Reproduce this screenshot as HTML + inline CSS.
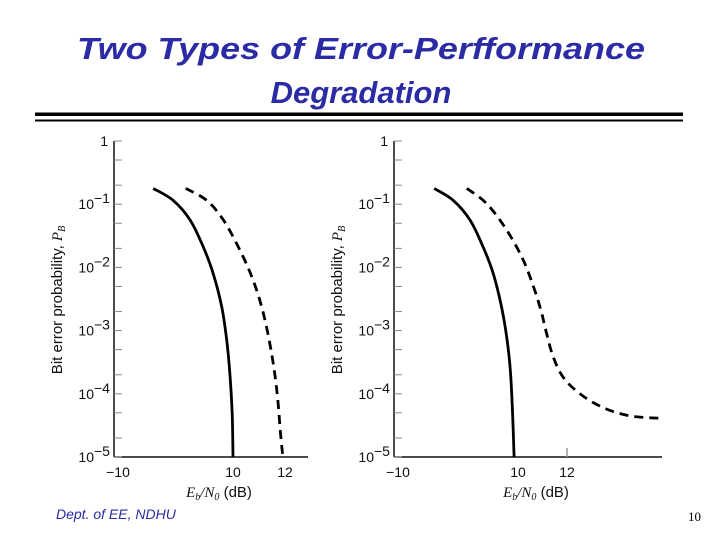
<!DOCTYPE html>
<html><head><meta charset="utf-8"><style>
body{margin:0;background:#fff;}
svg{display:block;}
.tt{font-family:"Liberation Sans",sans-serif;font-weight:bold;font-style:italic;font-size:31px;fill:#2b2ba6;}
.tk{font-family:"Liberation Sans",sans-serif;font-size:14px;fill:#111;}
</style></head><body>
<svg id="s" width="720" height="540" viewBox="0 0 720 540" xmlns="http://www.w3.org/2000/svg">
<text class="tt" x="361" y="59" text-anchor="middle" textLength="568" lengthAdjust="spacingAndGlyphs">Two Types of Error-Perfformance</text>
<text class="tt" x="361" y="103" text-anchor="middle">Degradation</text>
<rect x="35" y="112.5" width="648" height="3.5" fill="#000"/>
<rect x="35" y="119.5" width="648" height="2" fill="#000"/>
<text x="56" y="519" font-family="Liberation Sans,sans-serif" font-style="italic" font-size="14" fill="#2b2ba6">Dept. of EE, NDHU</text>
<text x="688" y="521" font-family="Liberation Serif,serif" font-size="13" fill="#000">10</text>
<g id="c1"></g>
<g id="c2"></g>
</svg>
<script>
// Left chart data (x in dB, y as log10 P_B)
const leftSolidX = [6.93,7.70,8.35,8.86,9.24,9.57,9.76,9.88,9.97,10.0];
const leftSolidY = [-0.75,-0.94,-1.25,-1.68,-2.10,-2.63,-3.16,-3.69,-4.32,-5.0];
const leftDashX = [8.18,8.99,9.63,10.27,10.78,11.17,11.49,11.70,11.83,11.92];
const leftDashY = [-0.75,-0.94,-1.25,-1.73,-2.21,-2.73,-3.37,-4.00,-4.64,-5.0];
// Right chart data
const rightSolidX = [6.58,7.36,8.04,8.58,8.99,9.33,9.56,9.70,9.78,9.84];
const rightSolidY = [-0.75,-0.94,-1.25,-1.68,-2.10,-2.63,-3.16,-3.69,-4.32,-5.0];
const rightDashX = [7.91,8.72,9.54,10.22,10.69,10.97,11.17,11.44,11.85,12.53,13.48,14.57,15.87];
const rightDashY = [-0.75,-0.99,-1.41,-1.89,-2.37,-2.73,-3.05,-3.42,-3.74,-4.0,-4.22,-4.35,-4.39];
const yTickExp = [0,-1,-2,-3,-4,-5];
const yTickLabels = ["1","10","10","10","10","10"];
const yTickSup = ["","\u22121","\u22122","\u22123","\u22124","\u22125"];
const xTickVals = [10,12];
const xTickLabels = ["10","12"];

const NS="http://www.w3.org/2000/svg";
function mk(parent,tag,attrs,txt){const e=document.createElementNS(NS,tag);for(const k in attrs)e.setAttribute(k,attrs[k]);if(txt!==undefined)e.textContent=txt;parent.appendChild(e);return e;}

function smooth(pts){
  let d='M'+pts[0][0].toFixed(1)+','+pts[0][1].toFixed(1);
  for(let i=0;i<pts.length-1;i++){
    const p0=pts[i-1]||pts[i],p1=pts[i],p2=pts[i+1],p3=pts[i+2]||p2;
    const c1=[p1[0]+(p2[0]-p0[0])/6,p1[1]+(p2[1]-p0[1])/6];
    const c2=[p2[0]-(p3[0]-p1[0])/6,p2[1]-(p3[1]-p1[1])/6];
    d+=` C${c1[0].toFixed(1)},${c1[1].toFixed(1)} ${c2[0].toFixed(1)},${c2[1].toFixed(1)} ${p2[0].toFixed(1)},${p2[1].toFixed(1)}`;
  }
  return d;
}

function chart(g,ax,xEnd,px10,pxPerDb,sX,sY,dX,dY,midTick){
  const top=141,bot=457,dec=(bot-top)/5;
  const X=v=>px10+(v-10)*pxPerDb;
  const Y=l=>top-l*dec;
  let e;
  e=mk(g,'line',{x1:ax,y1:top,x2:ax,y2:bot,stroke:'#111','stroke-width':1.5});
  
  
  e=mk(g,'line',{x1:ax,y1:bot,x2:xEnd,y2:bot,stroke:'#111','stroke-width':1.5});
  
  
  yTickExp.forEach((p,i)=>{
    [0,Math.log10(0.5),Math.log10(0.2)].forEach(o=>{
      const l=p+o; if(l<-5)return;
      const t=mk(g,'line',{x1:ax,y1:Y(l),x2:ax+8,y2:Y(l),stroke:'#888','stroke-width':1});
      
      
    });
    const tx=mk(g,'text',{class:'tk',x:ax-6-(yTickSup[i]?14:0),y:Y(p)+5,'text-anchor':'end','font-size':'15'},yTickLabels[i]);
    
    
    if(yTickSup[i]){
      const s=mk(g,'text',{class:'tk',x:ax-20,y:Y(p)-1,'font-size':'10'},yTickSup[i]);
      
      
    }
  });
  let t=mk(g,'text',{class:'tk',x:ax+4,y:477,'text-anchor':'middle','font-size':'15'},'\u221210');
  
  
  xTickVals.forEach((v,i)=>{
    const tl=mk(g,'text',{class:'tk',x:X(v),y:477,'text-anchor':'middle','font-size':'15'},xTickLabels[i]);
    
    
  });
  if(midTick){
    const mt=mk(g,'line',{x1:X(12),y1:bot,x2:X(12),y2:bot-9,stroke:'#999','stroke-width':1.5});
    
    
  }
  const xl=mk(g,'text',{x:(ax+xEnd)/2+8,y:497,'text-anchor':'middle','font-size':'15','font-family':'Liberation Sans,sans-serif',fill:'#111'});
  
  
  xl.innerHTML='<tspan font-family="Liberation Serif,serif" font-style="italic">E<tspan font-size="10" dy="3">b</tspan><tspan dy="-3">/N</tspan><tspan font-size="10" dy="3">0</tspan></tspan><tspan dy="-3"> (dB)</tspan>';
  const yl=mk(g,'text',{transform:`translate(${ax-52},300) rotate(-90)`,'text-anchor':'middle','font-size':'15','font-family':'Liberation Sans,sans-serif',fill:'#111'});
  
  
  yl.innerHTML='Bit error probability, <tspan font-family="Liberation Serif,serif" font-style="italic">P<tspan font-size="10" dy="3">B</tspan></tspan>';
  const pts=(xs,ys)=>xs.map((v,i)=>[X(v),Y(ys[i])]);
  const s=mk(g,'path',{d:smooth(pts(sX,sY)),fill:'none',stroke:'#000','stroke-width':2.8,'stroke-linejoin':'round'});
  
  
  const d=mk(g,'path',{d:smooth(pts(dX,dY)),fill:'none',stroke:'#000','stroke-width':2.8,'stroke-dasharray':'9,6'});
  
  
}
chart(document.getElementById('c1'),114,308,233,26,leftSolidX,leftSolidY,leftDashX,leftDashY,false);
chart(document.getElementById('c2'),394,662,518,24.5,rightSolidX,rightSolidY,rightDashX,rightDashY,true);
</script>
</body></html>
